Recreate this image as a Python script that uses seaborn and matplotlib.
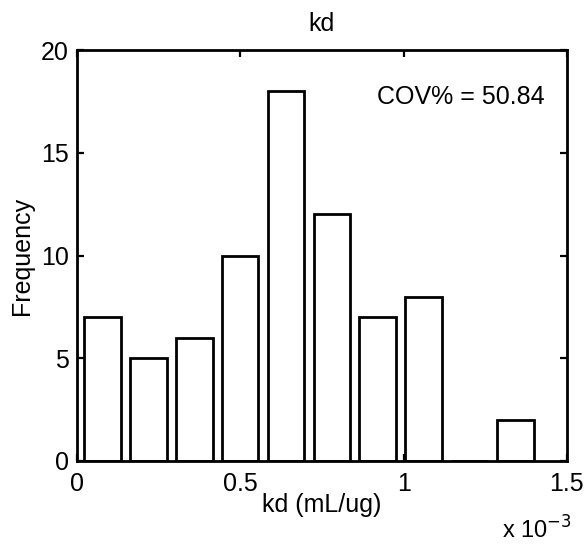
import numpy as np
import pandas as pd
import matplotlib
matplotlib.use("Agg")
import matplotlib.pyplot as plt
import seaborn as sns

# Histogram of kd (mL/ug): 10 equal bins between the sample min and max
kd_min = 0.0083e-3
kd_max = 1.412e-3
counts = [7, 5, 6, 10, 18, 12, 7, 8, 0, 2]
cov_pct = 50.84

n_bins = len(counts)
edges = np.linspace(kd_min, kd_max, n_bins + 1)
centers = (edges[:-1] + edges[1:]) / 2
df = pd.DataFrame({"kd": centers, "count": counts})

sns.set_theme(style="white")
plt.rcParams["font.family"] = ["Liberation Sans", "DejaVu Sans"]
FS = 18

fig = plt.figure(figsize=(5.88, 5.46), dpi=100)
ax = fig.add_axes([0.131, 0.156, 0.833, 0.752])

sns.histplot(data=df, x="kd", weights="count", bins=n_bins,
             binrange=(kd_min, kd_max), shrink=0.8,
             color="white", edgecolor="black", linewidth=2.0, alpha=1.0,
             ax=ax)

ax.set_xlim(0, 1.5e-3)
ax.set_ylim(0, 20)
ax.set_xticks([0, 0.5e-3, 1.0e-3, 1.5e-3])
ax.set_xticklabels(["0", "0.5", "1", "1.5"])
ax.set_yticks([0, 5, 10, 15, 20])
ax.set_yticklabels(["0", "5", "10", "15", "20"])

for s in ax.spines.values():
    s.set_visible(True)
    s.set_color("black")
    s.set_linewidth(2.0)

ax.tick_params(axis="both", direction="in", length=5, width=1.6,
               colors="black", labelsize=FS,
               top=True, right=True, bottom=True, left=True)
ax.tick_params(axis="x", pad=8)
ax.tick_params(axis="y", pad=6)

ax.set_title("kd", fontsize=FS, color="black", pad=14)
ax.set_xlabel("kd (mL/ug)", fontsize=FS, color="black", labelpad=-2)
ax.set_ylabel("Frequency", fontsize=FS, color="black", labelpad=5)

ax.text(0.955, 0.885, f"COV% = {cov_pct:.2f}", transform=ax.transAxes,
        ha="right", va="center", fontsize=FS, color="black")
fig.text(0.853, 0.03, r"x 10$^{-3}$", ha="left", va="center",
         fontsize=FS - 1, color="black")

fig.savefig("out.png", dpi=100, facecolor="white")
